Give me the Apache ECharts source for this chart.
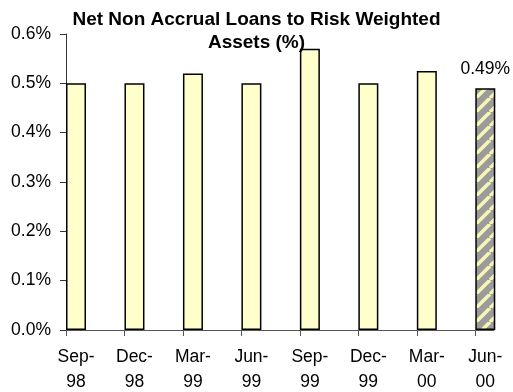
<!DOCTYPE html>
<html>
<head>
<meta charset="utf-8">
<style>
  html, body { margin: 0; padding: 0; background: #fff; }
  #chart { width: 513px; height: 392px; }
</style>
<script src="https://cdn.jsdelivr.net/npm/echarts@6/dist/echarts.min.js"></script>
</head>
<body>
<div id="chart"></div>
<script>
// Quarter-end periods and ratio values (in percent)
const categories = ['Sep-98', 'Dec-98', 'Mar-99', 'Jun-99', 'Sep-99', 'Dec-99', 'Mar-00', 'Jun-00'];
const ratioValues = [0.50, 0.50, 0.52, 0.50, 0.57, 0.50, 0.525, 0.49];
const labelledIndex = 7;   // most recent quarter carries a value label
const yMin = 0, yMax = 0.6, yStep = 0.1;

// Layout constants
const GRID = { left: 66, right: 19, top: 34, bottom: 62, containLabel: false, outerBoundsMode: 'none' };
const CHART_W = 513;
const BAR_W = 20;
const X_MAX = 7.32;                      // axis runs a little past the last quarter
const unitPx = (CHART_W - GRID.left - GRID.right) / X_MAX;
const barOffset = (BAR_W / 2) / unitPx;  // bars sit just right of each tick

const FONT = '"Liberation Sans", Arial, sans-serif';
const LABEL_SIZE = 17.5;

// Hatched fill for the latest quarter
function makeHatch() {
  const s = 14;
  const c = document.createElement('canvas');
  c.width = s; c.height = s;
  const g = c.getContext('2d');
  g.fillStyle = '#9b9b9b';
  g.fillRect(0, 0, s, s);
  g.strokeStyle = '#f6f6b4';
  g.lineWidth = 3.5;
  for (let k = -1; k <= 1; k++) {
    g.beginPath();
    g.moveTo(k * s, s);
    g.lineTo(k * s + s, 0);
    g.stroke();
  }
  return c;
}
const hatch = makeHatch();

const barData = ratioValues.map((v, i) => {
  const item = { value: [i + barOffset, v] };
  if (i === labelledIndex) {
    item.itemStyle = { color: { image: hatch, repeat: 'repeat' } };
    item.label = {
      show: true, position: 'top', distance: 10,
      formatter: (p) => p.value[1].toFixed(2) + '%',
      fontFamily: FONT, fontSize: LABEL_SIZE, color: '#000'
    };
  }
  return item;
});

const chart = echarts.init(document.getElementById('chart'), null, { renderer: 'canvas' });
chart.setOption({
  animation: false,
  backgroundColor: '#fff',
  title: {
    text: 'Net Non Accrual Loans to Risk Weighted\nAssets (%)',
    left: 'center',
    top: 4,
    textStyle: { fontFamily: FONT, fontSize: 19, fontWeight: 'bold', color: '#000', lineHeight: 22.5 }
  },
  grid: GRID,
  xAxis: {
    type: 'value',
    min: 0,
    max: X_MAX,
    splitLine: { show: false },
    axisLine: { show: true, lineStyle: { color: '#555', width: 1 } },
    axisTick: {
      show: true, length: 6, inside: false,
      customValues: categories.map((_, i) => i),
      lineStyle: { color: '#555' }
    },
    axisLabel: {
      customValues: categories.map((_, i) => i + barOffset),
      formatter: (v) => {
        const c = categories[Math.floor(v + 1e-6)];
        return c ? c.replace('-', '-\n') : '';
      },
      fontFamily: FONT, fontSize: LABEL_SIZE, color: '#000', lineHeight: 25, margin: 15
    }
  },
  yAxis: {
    type: 'value',
    min: yMin,
    max: yMax,
    interval: yStep,
    splitLine: { show: false },
    axisLine: { show: true, lineStyle: { color: '#333', width: 1 } },
    axisTick: { show: true, length: 6, inside: false, lineStyle: { color: '#333' } },
    axisLabel: {
      formatter: (v) => v.toFixed(1) + '%',
      fontFamily: FONT, fontSize: LABEL_SIZE, color: '#000', margin: 15
    }
  },
  series: [{
    type: 'bar',
    barWidth: BAR_W,
    clip: false,
    data: barData,
    itemStyle: { color: '#FFFFCC', borderColor: '#000', borderWidth: 1.5 }
  }]
});
</script>
</body>
</html>
